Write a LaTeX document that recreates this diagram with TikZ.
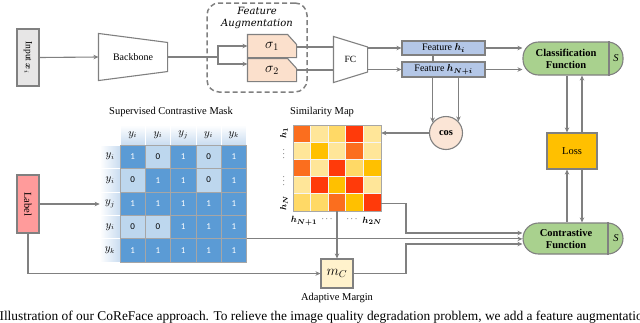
\documentclass[tikz,border=0pt]{standalone}
\usepackage{fontspec}
\usepackage{bm}
\setmainfont{Liberation Serif}
\newfontfamily\carl{Carlito}
\newfontfamily\dejas{DejaVu Serif}
\usetikzlibrary{arrows.meta,backgrounds,calc}
\definecolor{lgray}{HTML}{808080}
\definecolor{gridgray}{HTML}{A6A6A6}
\definecolor{inpfill}{HTML}{E7E6E6}
\definecolor{sigfill}{HTML}{FBE0CC}
\definecolor{featfill}{HTML}{B4C7E7}
\definecolor{grnfill}{HTML}{A9D18E}
\definecolor{lossfill}{HTML}{FFC000}
\definecolor{mcfill}{HTML}{FFF2CC}
\definecolor{labfill}{HTML}{FF9B9B}
\definecolor{cosfill}{HTML}{FBE5D6}
\definecolor{blueone}{HTML}{5B9BD5}
\definecolor{bluezero}{HTML}{BDD7EE}
\definecolor{bluehead}{HTML}{C9DCF0}
\definecolor{scO}{HTML}{FB6E1E}
\definecolor{scL}{HTML}{FFE699}
\definecolor{scM}{HTML}{FFD966}
\definecolor{scR}{HTML}{FF3A0A}
\definecolor{scA}{HTML}{FFC000}
\begin{document}
\begin{tikzpicture}[x=1pt,y=-1pt,line width=1.1pt,
  ln/.style={draw=lgray,line width=1.1pt},
  arr/.style={ln,-{Stealth[length=5pt,width=4.5pt]}},
  txt/.style={font=\fontsize{10}{12}\selectfont,inner sep=0pt},
  plainbox/.style={draw=lgray,line width=1.1pt,inner sep=0pt,font=\fontsize{10}{12}\selectfont},
  pill/.style={draw=lgray,line width=1.1pt,fill=grnfill,rounded corners=15.5pt,inner sep=0pt},
  cellvone/.style={draw=gridgray,line width=0.6pt,fill=blueone,text=white,minimum width=25.3pt,minimum height=23.4pt,inner sep=0pt,font=\carl\fontsize{9}{10}\selectfont},
  cellvzero/.style={cellvone,fill=bluezero,text=black},
  colhead/.style={draw=white,line width=0.6pt,top color=white,bottom color=bluehead,minimum width=25.3pt,minimum height=20pt,inner sep=0pt,font=\fontsize{10.5}{12}\selectfont},
  rowhead/.style={draw=white,line width=0.6pt,left color=white,right color=bluehead,minimum width=20pt,minimum height=23.4pt,inner sep=0pt,font=\fontsize{10.5}{12}\selectfont},
  simcell/.style={draw=white!92!gray,line width=0.8pt,minimum width=17.6pt,minimum height=17.2pt,inner sep=0pt},
  hlab/.style={inner sep=0pt,font=\fontsize{9.5}{11}\selectfont},
  boldtxt/.style={inner sep=0pt,font=\bfseries\fontsize{10.5}{12}\selectfont,align=center}]
\useasboundingbox (0,0) rectangle (640,322);
\clip (0,0) rectangle (640,322);

% ---------- top row ----------
\node[plainbox,fill=inpfill,rotate=-90,minimum width=57pt,minimum height=22pt,font=\fontsize{9.5}{11}\selectfont] (inp) at (28,57.5) {Input $\bm{x}_i$};

\node[txt,minimum width=68pt,minimum height=46pt] (bb) at (133,57) {Backbone};
\node[txt,minimum width=33pt,minimum height=45pt,font=\fontsize{9.5}{11}\selectfont] (fc) at (350.5,59.5) {FC};

\node[draw=lgray,line width=1.5pt,dash pattern=on 5pt off 3pt,rounded corners=12pt,minimum width=100pt,minimum height=89pt,inner sep=0pt] (fa) at (257,47.5) {};
\node[inner sep=0pt,font=\dejas\itshape\fontsize{10}{11}\selectfont,align=center] (fat) at (257,18) {Feature\\[1pt]Augmentation};

\node[inner sep=0pt,minimum width=48pt,minimum height=22pt,font=\fontsize{14}{16}\selectfont] (s1) at (272,46) {$\sigma_1$};
\node[inner sep=0pt,minimum width=48pt,minimum height=22pt,font=\fontsize{14}{16}\selectfont] (s2) at (272,70) {$\sigma_2$};

\begin{scope}[on background layer]
  \draw[ln,fill=white] (bb.north west) -- ([yshift=-9pt]bb.north east) -- ([yshift=9pt]bb.south east) -- (bb.south west) -- cycle;
  \draw[ln,fill=white] (fc.north west) -- ([yshift=-10.5pt]fc.north east) -- ([yshift=10.5pt]fc.south east) -- (fc.south west) -- cycle;
  \foreach \s in {s1,s2}{
    \draw[ln,fill=sigfill] (\s.south west) -- (\s.north west) -- ([xshift=-9pt]\s.north east) -- ([yshift=-10pt]\s.north east) -- (\s.south east) -- cycle;
  }
\end{scope}

\coordinate (split) at (218,57);
\draw[arr] (inp.north) -- (bb.west);
\draw[ln] (bb.east) -- (split);
\draw[arr] (split) |- (s1.west);
\draw[arr] (split) |- ([yshift=6pt]s2.west);
\draw[ln] ([yshift=-1pt]s1.east) -- ([yshift=-1pt]s1.east -| fc.west);
\draw[ln] (s2.east) -- (s2.east -| fc.west);

% features
\node[plainbox,fill=featfill,minimum width=83pt,minimum height=14pt] (fi) at (443.5,48) {Feature $\bm{h_i}$};
\draw[ln] (fi.south -| 433,0) -- (433,62);
\node[plainbox,fill=featfill,minimum width=83pt,minimum height=15pt] (fn) at (443.5,69.5) {Feature $\bm{h_{N+i}}$};
\draw[arr] (fc.east |- fi.west) -- (fi.west);
\draw[arr] (fc.east |- fn.west) -- (fn.west);

% classification
\node[pill,minimum width=100pt,minimum height=33pt] (cls) at (573,58.5) {};
\node[boldtxt] (clst) at (566,58.5) {Classification\\Function};
\node[inner sep=0pt,font=\itshape\fontsize{10.5}{12}\selectfont] (clss) at (616,58.5) {S};
\draw[ln] (609,0 |- cls.north) -- (609,0 |- cls.south);
\draw[arr] (fi.east) -- (fi.east -| cls.west);
\draw[arr] (fn.east) -- (fn.east -| cls.west);

% cos
\node[circle,draw=lgray,line width=1.1pt,fill=cosfill,minimum size=33pt,inner sep=0pt,font=\bfseries\fontsize{10.5}{12}\selectfont] (cos) at (446,133) {cos};
\draw[arr] (fn.south -| cos.142) -- (cos.142);
\draw[arr] (fn.south -| cos.43) -- (cos.43);

% loss
\node[plainbox,fill=lossfill,minimum width=50pt,minimum height=36pt,font=\fontsize{10.5}{12}\selectfont] (loss) at (572,151) {Loss};
\node[pill,minimum width=100pt,minimum height=31pt] (ctr) at (573,238.5) {};
\node[boldtxt] (ctrt) at (566,238.5) {Contrastive\\Function};
\node[inner sep=0pt,font=\itshape\fontsize{10.5}{12}\selectfont] (ctrs) at (616,238.5) {S};
\draw[ln] (608,0 |- ctr.north) -- (608,0 |- ctr.south);

\draw[arr] ([xshift=-5pt]loss.north |- cls.south) -- ([xshift=-5pt]loss.north);
\draw[arr] ([xshift=10pt]loss.north) -- ([xshift=10pt]loss.north |- cls.south);
\draw[arr] ([xshift=-5pt]loss.south |- ctr.north) -- ([xshift=-5pt]loss.south);
\draw[arr] ([xshift=10pt]loss.south) -- ([xshift=10pt]loss.south |- ctr.north);

% ---------- similarity map ----------
\node[inner sep=0pt,font=\fontsize{10.5}{12}\selectfont] (simt) at (322,112) {Similarity Map};
\foreach \col [count=\k from 0] in {O,L,M,R,L, L,A,L,O,L, O,L,R,M,A, L,R,A,R,L, M,M,O,A,R}{
  \pgfmathtruncatemacro{\r}{int(\k/5)+1}
  \pgfmathtruncatemacro{\c}{mod(\k,5)+1}
  \node[simcell,fill=sc\col] (s-\r-\c) at ({293+17.6*(\c-0.5)},{125+17.2*(\r-0.5)}) {};
}
\node[draw=gridgray,line width=0.6pt,minimum width=88pt,minimum height=86pt,inner sep=0pt] (sim) at (337,168) {};
\node[hlab,rotate=90] (l1) at (284,133) {$\bm{h_1}$};
\node[hlab,rotate=90] (l2) at (284,154) {$\cdots$};
\node[hlab,rotate=90] (l3) at (284,181) {$\cdots$};
\node[hlab,rotate=90] (l4) at (284,203) {$\bm{h_N}$};
\node[hlab] (b1) at (304,221) {$\bm{h_{N+1}}$};
\node[hlab] (b2) at (327,219) {$\cdots$};
\node[hlab] (b3) at (352,219) {$\cdots$};
\node[hlab] (b4) at (372,221) {$\bm{h_{2N}}$};
\draw[arr] (cos.west) -- (cos.west -| sim.east);

% ---------- mask ----------
\node[inner sep=0pt,font=\fontsize{10.5}{12}\selectfont] (maskt) at (171,112) {Supervised Contrastive Mask};
\foreach \t [count=\c] in {i,i,j,i,k}{
  \node[colhead] (h-\c) at ({120+25.3*(\c-0.5)},135) {$y_\t$};
}
\foreach \t [count=\r] in {i,i,j,i,k}{
  \node[rowhead] (r-\r) at (110,{145+23.4*(\r-0.5)}) {$y_\t$};
}
\foreach \v [count=\k from 0] in {1,0,1,0,1, 0,1,1,0,1, 1,1,1,1,1, 0,0,1,1,1, 1,1,1,1,1}{
  \pgfmathtruncatemacro{\r}{int(\k/5)+1}
  \pgfmathtruncatemacro{\c}{mod(\k,5)+1}
  \ifnum\v=1
    \node[cellvone] (m-\r-\c) at ({120+25.3*(\c-0.5)},{145+23.4*(\r-0.5)}) {1};
  \else
    \node[cellvzero] (m-\r-\c) at ({120+25.3*(\c-0.5)},{145+23.4*(\r-0.5)}) {0};
  \fi
}

% ---------- label, margin ----------
\node[plainbox,fill=labfill,rotate=-90,minimum width=58pt,minimum height=22pt,font=\fontsize{10.5}{12}\selectfont] (lab) at (28,204) {Label};
\draw[arr] (lab.north) -- (lab.north -| r-3.west);

\node[plainbox,fill=mcfill,minimum width=32pt,minimum height=29pt,font=\fontsize{14}{16}\selectfont] (mc) at (337,273.5) {$m_C$};
\node[inner sep=0pt,font=\fontsize{10.5}{12}\selectfont] (mct) at (337,298) {Adaptive Margin};
\draw[arr] (lab.east) |- (mc.west);
\draw[arr] (sim.south) -- (mc.north);

\coordinate (j1) at (406,233);
\coordinate (j2) at (406,244);
\draw[arr] ([yshift=8pt]sim.south east) -| (j1) -- (j1 -| ctr.west);
\draw[arr] (m-4-5.south east) -- (m-4-5.south east -| ctr.west);
\draw[arr] (mc.east) -| (j2) -- (j2 -| ctr.west);

% caption
\node[anchor=base west,inner sep=0pt,font=\fontsize{13.4}{15}\selectfont] (cap) at (-1,320) {Illustration of our CoReFace approach. To relieve the image quality degradation problem, we add a feature augmentation};
\end{tikzpicture}
\end{document}
